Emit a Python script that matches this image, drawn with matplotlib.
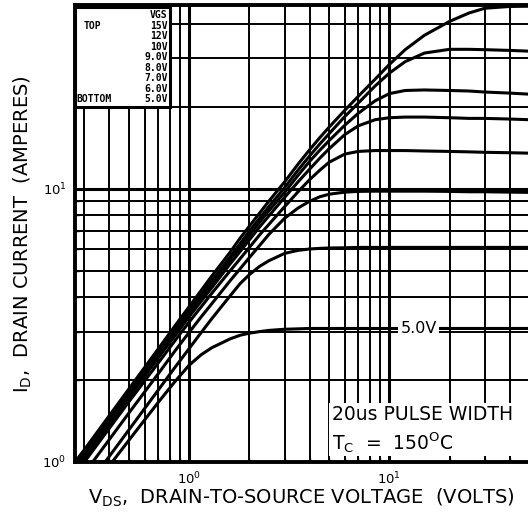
import numpy as np
import matplotlib
matplotlib.use("Agg")
import matplotlib.pyplot as plt
from matplotlib.patches import Rectangle

# drain-source voltage sample points (volts)
vds = [0.25, 0.3, 0.4, 0.5, 0.7, 0.85, 1.0, 1.15, 1.3, 1.6, 1.8, 2.0, 2.25, 2.5,
       3.0, 3.5, 4.0, 4.5, 5.0, 6.0, 7.0, 8.5, 10, 12, 15, 20, 25, 30, 40, 50]

# drain current (amperes), one list per gate voltage
id_15v = [0.93, 1.11, 1.48, 1.85, 2.59, 3.15, 3.7, 4.25, 4.8, 5.85, 6.6, 7.3, 8.15, 9.0,
          10.6, 12.3, 13.9, 15.4, 16.8, 19.4, 21.8, 25.2, 28.5, 32.3, 36.5, 41.0, 44.0,
          45.8, 46.5, 46.6]
id_12v = [0.9, 1.08, 1.44, 1.8, 2.51, 3.05, 3.58, 4.1, 4.62, 5.62, 6.3, 7.0, 7.8, 8.6,
          10.1, 11.7, 13.2, 14.6, 15.9, 18.4, 20.6, 23.8, 26.5, 29.2, 31.4, 32.4, 32.4,
          32.3, 32.1, 31.9]
id_10v = [0.88, 1.05, 1.4, 1.75, 2.45, 2.97, 3.48, 3.98, 4.48, 5.45, 6.1, 6.75, 7.55, 8.3,
          9.7, 11.2, 12.6, 13.85, 15.0, 17.1, 18.9, 21.0, 22.3, 22.9, 23.0, 22.9, 22.8,
          22.6, 22.4, 22.2]
id_9v = [0.86, 1.03, 1.37, 1.72, 2.4, 2.9, 3.4, 3.88, 4.35, 5.3, 5.9, 6.5, 7.25, 7.95,
         9.3, 10.6, 11.8, 12.95, 14.0, 15.8, 17.0, 17.9, 18.2, 18.3, 18.3, 18.2, 18.1,
         18.1, 18.0, 17.9]
id_8v = [0.83, 1.0, 1.33, 1.66, 2.3, 2.78, 3.25, 3.7, 4.15, 5.0, 5.55, 6.1, 6.78, 7.4,
         8.6, 9.75, 10.8, 11.7, 12.5, 13.4, 13.7, 13.8, 13.8, 13.8, 13.75, 13.7, 13.65,
         13.6, 13.55, 13.5]
id_7v = [0.76, 0.91, 1.21, 1.51, 2.1, 2.55, 2.98, 3.4, 3.8, 4.6, 5.1, 5.6, 6.2, 6.8,
         7.8, 8.5, 9.0, 9.35, 9.55, 9.72, 9.78, 9.8, 9.8, 9.8, 9.8, 9.78, 9.75,
         9.75, 9.72, 9.7]
id_6v = [0.66, 0.79, 1.05, 1.31, 1.83, 2.22, 2.6, 2.98, 3.35, 4.05, 4.5, 4.85, 5.2, 5.45,
         5.8, 5.95, 6.02, 6.05, 6.07, 6.08, 6.1, 6.1, 6.1, 6.1, 6.1, 6.1, 6.1,
         6.1, 6.1, 6.1]
id_5v = [0.6, 0.72, 0.97, 1.2, 1.65, 1.97, 2.26, 2.47, 2.62, 2.82, 2.91, 2.96, 3.0, 3.03,
         3.06, 3.07, 3.08, 3.08, 3.08, 3.08, 3.08, 3.08, 3.08, 3.08, 3.08, 3.08, 3.08,
         3.08, 3.08, 3.08]

curves = [id_15v, id_12v, id_10v, id_9v, id_8v, id_7v, id_6v, id_5v]
legend_vgs = ["15V", "12V", "10V", "9.0V", "8.0V", "7.0V", "6.0V", "5.0V"]

fig = plt.figure(figsize=(5.28, 5.19), dpi=100)
ax = fig.add_axes([0.142, 0.110, 0.858, 0.880])

for cur in curves:
    ax.plot(vds, cur, color="black", lw=2.2, solid_capstyle="round",
            solid_joinstyle="round", zorder=3)

ax.set_xscale("log")
ax.set_yscale("log")
ax.set_xlim(0.269, 49.3)
ax.set_ylim(1.0, 47.0)

ax.grid(True, which="major", color="black", lw=2.2, zorder=1)
ax.grid(True, which="minor", color="black", lw=1.4, zorder=1)
ax.set_axisbelow(True)

for side in ["left", "bottom", "top"]:
    ax.spines[side].set_linewidth(2.8)
ax.spines["right"].set_visible(False)

ax.tick_params(which="both", direction="in", length=3, width=1, right=False, top=False)
ax.tick_params(which="major", labelsize=9.5, pad=6)

ax.set_xlabel(r"V$_\mathrm{DS}$,  DRAIN-TO-SOURCE VOLTAGE  (VOLTS)",
              fontsize=14, labelpad=0)
ax.set_ylabel(r"I$_\mathrm{D}$,  DRAIN CURRENT  (AMPERES)", fontsize=14, labelpad=6)

# curve tag on the bottom curve
ax.text(14.0, 3.08, "5.0V", fontsize=11.5, ha="center", va="center", zorder=5,
        bbox=dict(facecolor="white", edgecolor="none", pad=1.5))

# test conditions, bottom right
ax.add_patch(Rectangle((0.56, 0.012), 0.45, 0.118, transform=ax.transAxes,
                       facecolor="white", edgecolor="none", zorder=4))
ax.text(0.567, 0.104, "20us PULSE WIDTH", transform=ax.transAxes, fontsize=13.5,
        ha="left", va="center", zorder=5)
ax.text(0.567, 0.043, r"T$_\mathrm{C}$  =  150$^\mathrm{O}$C", transform=ax.transAxes,
        fontsize=13.5, ha="left", va="center", zorder=5)

# legend box, top left
ax.add_patch(Rectangle((0.0, 0.777), 0.21, 0.22, transform=ax.transAxes,
                       facecolor="white", edgecolor="black", lw=2.2, zorder=6))
mono = dict(family="DejaVu Sans Mono", fontweight="bold", fontsize=7, zorder=7)
row_y = [0.978 - 0.023 * k for k in range(9)]
ax.text(0.205, row_y[0], "VGS", transform=ax.transAxes, ha="right", va="center", **mono)
for k, lab in enumerate(legend_vgs):
    ax.text(0.205, row_y[k + 1], lab, transform=ax.transAxes, ha="right", va="center", **mono)
ax.text(0.02, row_y[1], "TOP", transform=ax.transAxes, ha="left", va="center", **mono)
ax.text(0.004, row_y[8], "BOTTOM", transform=ax.transAxes, ha="left", va="center", **mono)

fig.savefig("out.png", dpi=100)
